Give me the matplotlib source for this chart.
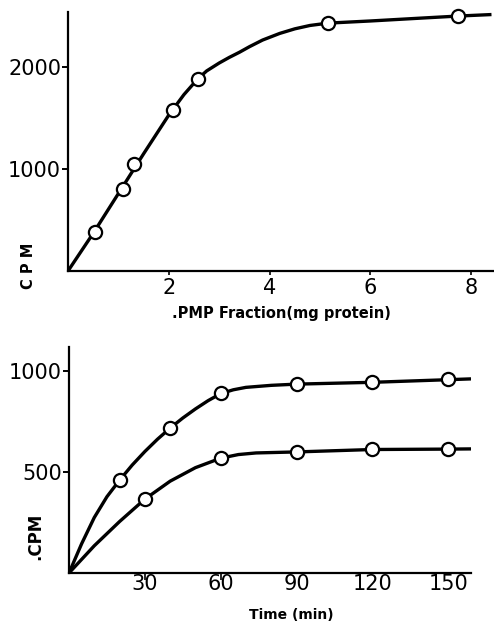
import matplotlib
matplotlib.use("Agg")
import matplotlib.pyplot as plt

# top panel: CPM vs PMP fraction (mg protein)
pmp_x = [0.53, 1.10, 1.31, 2.08, 2.57, 5.16, 7.73]
pmp_cpm = [382, 804, 1049, 1578, 1882, 2431, 2500]
pmp_curve_x = [0, 0.5, 1.0, 1.5, 2.0, 2.3, 2.57, 2.75, 3.0, 3.2, 3.4, 3.6,
               3.86, 4.2, 4.5, 4.8, 5.16, 6.0, 7.0, 7.73, 8.4]
pmp_curve_y = [0, 370, 760, 1150, 1530, 1730, 1882, 1962, 2040, 2095, 2145, 2200,
               2265, 2330, 2375, 2408, 2431, 2452, 2480, 2500, 2515]

# bottom panel: CPM vs time (min), two series
time_hi = [20, 40, 60, 90, 120, 150]
cpm_hi = [460, 718, 891, 936, 945, 960]
time_lo = [30, 60, 90, 120, 150]
cpm_lo = [366, 569, 599, 614, 614]
hi_curve_x = [0, 5, 10, 15, 20, 25, 30, 35, 40, 45, 50, 55, 60, 65, 70, 80, 90, 120, 150, 159]
hi_curve_y = [0, 145, 275, 378, 460, 535, 602, 663, 718, 768, 813, 854, 889, 908, 920, 930, 936, 945, 958, 962]
lo_curve_x = [0, 10, 20, 30, 40, 50, 60, 67, 74, 90, 120, 150, 159]
lo_curve_y = [0, 135, 255, 366, 455, 522, 569, 587, 595, 600, 612, 614, 615]

fig = plt.figure(figsize=(4.94, 6.28), dpi=100)

def style(ax):
    for s in ["top", "right"]:
        ax.spines[s].set_visible(False)
    for s in ["left", "bottom"]:
        ax.spines[s].set_linewidth(1.6)
    ax.tick_params(axis="y", length=4, width=1.4, labelsize=15, direction="out", pad=1)
    ax.tick_params(axis="x", length=3, width=1.2, labelsize=15, pad=2)

mk = dict(marker="o", markersize=9.5, markerfacecolor="white", clip_on=False,
          markeredgecolor="black", markeredgewidth=1.6, linestyle="none", zorder=3)

ax1 = fig.add_axes([68 / 494, 1 - 271 / 628, 426 / 494, 259 / 628])
ax1.plot(pmp_curve_x, pmp_curve_y, color="black", lw=2.4, solid_capstyle="butt")
ax1.plot(pmp_x, pmp_cpm, **mk)
ax1.set_xlim(0, 8.45)
ax1.set_ylim(0, 2540)
ax1.set_xticks([2, 4, 6, 8])
ax1.set_yticks([1000, 2000])
style(ax1)
ax1.set_xlabel(".PMP Fraction(mg protein)", fontsize=10.5, fontweight="bold")
ax1.xaxis.set_label_coords(0.5, -0.135)
ax1.set_ylabel("C P M", fontsize=10.5, fontweight="bold")
ax1.yaxis.set_label_coords(-0.075, 0.02)

ax2 = fig.add_axes([69 / 494, 1 - 573 / 628, 402 / 494, 226 / 628])
ax2.plot(hi_curve_x, hi_curve_y, color="black", lw=2.4, solid_capstyle="butt")
ax2.plot(lo_curve_x, lo_curve_y, color="black", lw=2.4, solid_capstyle="butt")
ax2.plot(time_hi, cpm_hi, **mk)
ax2.plot(time_lo, cpm_lo, **mk)
ax2.set_xlim(0, 159)
ax2.set_ylim(0, 1120)
ax2.set_xticks([30, 60, 90, 120, 150])
ax2.set_yticks([500, 1000])
style(ax2)
ax2.tick_params(axis="x", length=5, width=1.2, pad=-4)
# only the first two time ticks show a mark in the original
for t in ax2.xaxis.get_major_ticks()[2:]:
    t.tick1line.set_visible(False)
ax2.set_xlabel("Time (min)", fontsize=10, fontweight="bold")
ax2.xaxis.set_label_coords(0.552, -0.155)
ax2.set_ylabel(".CPM", fontsize=12, fontweight="bold")
ax2.yaxis.set_label_coords(-0.062, 0.164)

fig.savefig("out.png", dpi=100)
